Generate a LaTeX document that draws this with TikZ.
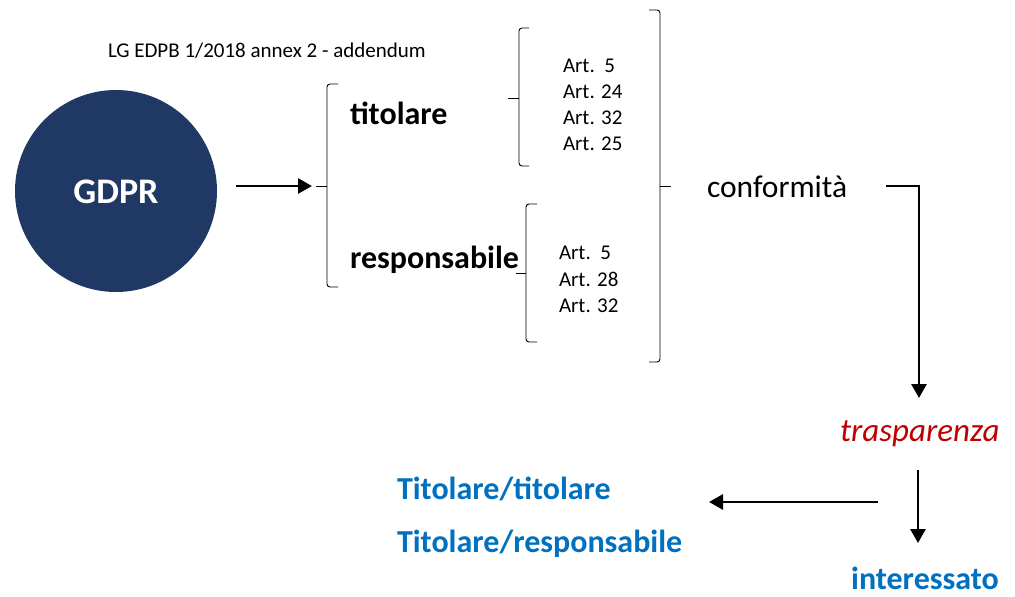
\documentclass[tikz,border=0pt]{standalone}
\usepackage{fontspec}
\setmainfont{Carlito}
\usetikzlibrary{arrows.meta}
\definecolor{navy}{HTML}{203864}
\definecolor{tred}{HTML}{C00000}
\definecolor{tblue}{HTML}{0070C0}
\tikzset{
  lbl/.style={inner sep=0pt, outer sep=0pt},
  brc/.style={draw=black, line width=0.9pt, rounded corners=3pt},
  arr/.style={draw=black, line width=2.8pt, -{Triangle[width=15pt,length=14pt]}},
  art/.style={lbl, anchor=base west, font=\fontsize{21}{24}\selectfont},
  big/.style={lbl, font=\fontsize{32}{36}\selectfont\bfseries},
  blu/.style={big, text=tblue},
}
\begin{document}
\begin{tikzpicture}[x=1pt,y=-1pt]
\useasboundingbox (0,0) rectangle (1015,597);
% circle
\node[circle, fill=navy, minimum size=202pt, inner sep=0pt] (gdpr) at (116,191) {};
\node[lbl, anchor=base, text=white, font=\fontsize{36}{40}\selectfont\bfseries] (gdprt) at (116,203) {GDPR};
% caption
\node[lbl, anchor=base west, font=\fontsize{21}{24}\selectfont] (cap) at (108,57) {LG EDPB 1/2018 annex 2 - addendum};
% left brace
\coordinate (b1tip) at (312,186);
\draw[brc] (338,84) -- (327,84) -- (327,287) -- (338,287);
\draw[line width=0.9pt] (327,186) -- (316,186);
% arrow GDPR -> brace
\coordinate (a1s) at (236,186);
\draw[arr] (a1s) -- (b1tip);
% titolare / responsabile
\node[big, anchor=base west] (tit) at (350,124) {titolare};
\node[big, anchor=base west] (resp) at (350,268) {responsabile};
% upper small brace
\draw[brc] (529,28) -- (519,28) -- (519,166) -- (529,166);
\draw[line width=0.9pt] (519,98) -- (508,98);
% lower small brace
\draw[brc] (537,204) -- (526,204) -- (526,342) -- (537,342);
\draw[line width=0.9pt] (526,273) -- (516,273);
% articles
\node[art] (a5) at (563,72) {Art.\ \ 5};
\node[art] (a24) at (563,98) {Art. 24};
\node[art] (a32) at (563,124) {Art. 32};
\node[art] (a25) at (563,150) {Art. 25};
\node[art] (b5) at (559,259) {Art.\ \ 5};
\node[art] (b28) at (559,286) {Art. 28};
\node[art] (b32) at (559,312) {Art. 32};
% big right brace
\draw[brc] (649,10) -- (660,10) -- (660,362) -- (649,362);
\draw[line width=0.9pt] (660,186) -- (671,186);
% conformita
\node[lbl, anchor=base west, font=\fontsize{31.5}{36}\selectfont] (conf) at (707,197) {conformità};
% trasparenza
\node[lbl, anchor=base west, text=tred, font=\fontsize{33}{38}\selectfont\itshape] (tras) at (840,441) {trasparenza};
% connector conformita -> trasparenza
\coordinate (c1) at (886,186);
\coordinate (c2) at (919,186);
\coordinate (c3) at (919,398);
\draw[arr] (c1) -- (c2) -- (c3);
% blue texts
\node[blu, anchor=base west] (tt) at (397,499) {Titolare/titolare};
\node[blu, anchor=base west] (tr) at (397,552) {Titolare/responsabile};
\node[blu, anchor=base] (int) at (925,589) {interessato};
% bottom arrows
\coordinate (d1) at (918,470);
\coordinate (d2) at (918,543);
\draw[arr] (d1) -- (d2);
\coordinate (h1) at (878,502);
\coordinate (h2) at (709,502);
\draw[arr] (h1) -- (h2);
\end{tikzpicture}
\end{document}
